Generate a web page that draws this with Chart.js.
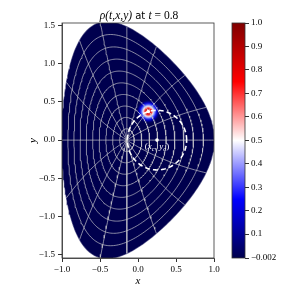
<!DOCTYPE html>
<html>
<head>
<meta charset="utf-8">
<script src="https://cdn.jsdelivr.net/npm/chart.js@4/dist/chart.umd.min.js"></script>
<style>
html, body { margin: 0; padding: 0; background: #fff; }
#wrap { position: relative; width: 299px; height: 297px; }
canvas { position: absolute; top: 0; }
</style>
</head>
<body>
<div id="wrap">
  <canvas id="main" width="299" height="297" style="left:0"></canvas>
  <canvas id="cbar" width="79" height="297" style="left:220px"></canvas>
</div>
<script>
// tick labels
var X_TICKS = [-1.0, -0.5, 0.0, 0.5, 1.0];
var Y_TICKS = [-1.5, -1.0, -0.5, 0.0, 0.5, 1.0, 1.5];
var CB_TICKS = [-0.002, 0.1, 0.2, 0.3, 0.4, 0.5, 0.6, 0.7, 0.8, 0.9, 1.0];
var RHO_MIN = -0.002;
var RHO_MAX = 1.0;

// czarny mapping parameters + grid
var EPS = 0.3;
var ELL = 1.4;
var FLUX_RADII = [0.1, 0.2, 0.3, 0.4, 0.5, 0.6, 0.7, 0.8, 0.9];
var THETA_LINES = 16;

// rotating blob and its path
var CENTER_X = [0.25];
var CENTER_Y = [0.0];
var PATH_RADIUS = 0.39;
var BLOB_X = [0.135];
var BLOB_Y = [0.375];

var NAVY = 'rgb(0,0,78)';
var FONT = '"Liberation Serif", "Times New Roman", serif';

function mapX(r, th) {
  return (1 - Math.sqrt(1 + EPS * (EPS + 2 * r * Math.cos(th)))) / EPS;
}
function mapY(r, th) {
  var xi = 1 / Math.sqrt(1 - EPS * EPS / 4);
  return ELL * xi * r * Math.sin(th) / (2 - Math.sqrt(1 + EPS * (EPS + 2 * r * Math.cos(th))));
}
function surface(r) {
  var pts = [];
  for (var i = 0; i <= 240; i++) {
    var th = 2 * Math.PI * i / 240;
    pts.push({x: mapX(r, th), y: mapY(r, th)});
  }
  return pts;
}
function spoke(th) {
  var pts = [];
  for (var i = 0; i <= 40; i++) {
    var r = i / 40;
    pts.push({x: mapX(r, th), y: mapY(r, th)});
  }
  return pts;
}
function fmt(v) {
  return String(v).replace('-', '\u2212');
}

// blob image used as point style
var blob = document.createElement('canvas');
blob.width = 26; blob.height = 26;
(function () {
  var c = blob.getContext('2d');
  var g = c.createRadialGradient(13, 13, 0, 13, 13, 12);
  g.addColorStop(0.0, 'rgb(215,10,10)');
  g.addColorStop(0.28, 'rgb(235,35,35)');
  g.addColorStop(0.36, 'rgb(250,160,160)');
  g.addColorStop(0.42, 'rgb(255,255,255)');
  g.addColorStop(0.52, 'rgb(130,150,255)');
  g.addColorStop(0.68, 'rgb(10,10,235)');
  g.addColorStop(0.86, 'rgba(0,0,160,0.5)');
  g.addColorStop(1.0, 'rgba(0,0,78,0)');
  c.fillStyle = g;
  c.fillRect(0, 0, 26, 26);
})();

var datasets = [];
datasets.push({
  data: surface(1.0), fill: 'shape', backgroundColor: NAVY,
  borderColor: 'rgba(0,0,78,0.6)', borderWidth: 1.2, pointRadius: 0, order: 10
});
datasets.push({
  data: [{x: BLOB_X[0], y: BLOB_Y[0]}], pointStyle: blob, pointRadius: 3,
  showLine: false, order: 9
});
for (var k = 0; k < FLUX_RADII.length; k++) {
  datasets.push({
    data: surface(FLUX_RADII[k]), borderColor: 'rgba(200,200,205,0.85)',
    borderWidth: 0.8, pointRadius: 0, fill: false, order: 5
  });
}
for (var j = 0; j < THETA_LINES; j++) {
  datasets.push({
    data: spoke(2 * Math.PI * j / THETA_LINES), borderColor: 'rgba(200,200,205,0.85)',
    borderWidth: 0.8, pointRadius: 0, fill: false, order: 5
  });
}
var circ = [];
for (var i = 0; i <= 200; i++) {
  var a = 2 * Math.PI * i / 200;
  circ.push({x: CENTER_X[0] + PATH_RADIUS * Math.cos(a), y: CENTER_Y[0] + PATH_RADIUS * Math.sin(a)});
}
datasets.push({
  data: circ, borderColor: '#fff', borderWidth: 1.6, borderDash: [5, 3],
  pointRadius: 0, fill: false, order: 2
});
datasets.push({
  data: [{x: CENTER_X[0], y: CENTER_Y[0]}, {x: BLOB_X[0], y: BLOB_Y[0]}],
  showLine: false, pointRadius: 1.8, pointBackgroundColor: '#fff',
  pointBorderWidth: 0, order: 1
});

var framePlugin = {
  id: 'frame',
  afterDraw: function (chart) {
    var a = chart.chartArea, ctx = chart.ctx;
    ctx.save();
    ctx.strokeStyle = '#333';
    ctx.lineWidth = 0.8;
    ctx.strokeRect(a.left, a.top, a.right - a.left, a.bottom - a.top);
    ctx.restore();
  }
};

var textPlugin = {
  id: 'texts',
  afterDraw: function (chart) {
    var ctx = chart.ctx;
    // title
    var parts = [
      ['\u03c1(t,x,y)', 'italic 11.5px ' + FONT],
      [' at ', '10px "DejaVu Sans", sans-serif'],
      ['t', 'italic 11.5px ' + FONT],
      [' = 0.8', '11.5px ' + FONT]
    ];
    ctx.save();
    ctx.fillStyle = '#000';
    ctx.textBaseline = 'alphabetic';
    var w = 0;
    parts.forEach(function (p) { ctx.font = p[1]; w += ctx.measureText(p[0]).width; });
    var x0 = (chart.chartArea.left + chart.chartArea.right) / 2 - w / 2 + 1;
    parts.forEach(function (p) { ctx.font = p[1]; ctx.fillText(p[0], x0, 18.5); x0 += ctx.measureText(p[0]).width; });
    // (x_c, y_c) label
    var sx = chart.scales.x, sy = chart.scales.y;
    var lx = sx.getPixelForValue(CENTER_X[0]), ly = sy.getPixelForValue(CENTER_Y[0] - 0.08);
    var lab = [
      ['(', '9px ' + FONT, 0], ['x', 'italic 9px ' + FONT, 0], ['c', 'italic 6.5px ' + FONT, 2],
      [', ', '9px ' + FONT, 0], ['y', 'italic 9px ' + FONT, 0], ['c', 'italic 6.5px ' + FONT, 2],
      [')', '9px ' + FONT, 0]
    ];
    ctx.fillStyle = '#fff';
    w = 0;
    lab.forEach(function (p) { ctx.font = p[1]; w += ctx.measureText(p[0]).width; });
    var lx0 = lx - w / 2;
    lab.forEach(function (p) { ctx.font = p[1]; ctx.fillText(p[0], lx0, ly + 3 + p[2]); lx0 += ctx.measureText(p[0]).width; });
    ctx.restore();
  }
};

new Chart(document.getElementById('main'), {
  type: 'line',
  data: {datasets: datasets},
  options: {
    responsive: false,
    animation: false,
    devicePixelRatio: 1,
    events: [],
    layout: {padding: {left: 23, right: 85, top: 23, bottom: 5}},
    plugins: {legend: {display: false}, tooltip: {enabled: false}},
    elements: {line: {tension: 0}},
    scales: {
      x: {
        type: 'linear', min: -1.0, max: 1.0,
        afterBuildTicks: function (s) { s.ticks = X_TICKS.map(function (v) { return {value: v}; }); },
        afterFit: function (s) { s.height = 34; },
        ticks: {color: '#000', font: {family: FONT, size: 9}, padding: 2, maxRotation: 0,
          callback: function (v) { return fmt(v.toFixed(1)); }},
        grid: {drawOnChartArea: false, drawTicks: true, tickLength: 4, color: '#333'},
        border: {display: true, color: '#333', width: 0.8},
        title: {display: true, text: 'x', color: '#000', font: {family: FONT, size: 11, style: 'italic'}}
      },
      y: {
        type: 'linear', min: -1.542, max: 1.532,
        afterBuildTicks: function (s) { s.ticks = Y_TICKS.map(function (v) { return {value: v}; }); },
        afterFit: function (s) { s.width = 39; },
        ticks: {color: '#000', font: {family: FONT, size: 9}, padding: 3,
          callback: function (v) { return fmt(v.toFixed(1)); }},
        grid: {drawOnChartArea: false, drawTicks: true, tickLength: 4, color: '#333'},
        border: {display: true, color: '#333', width: 0.8},
        title: {display: true, text: 'y', color: '#000', font: {family: FONT, size: 11, style: 'italic'}}
      }
    }
  },
  plugins: [framePlugin, textPlugin]
});

// colorbar (seismic)
function seismic(ctx) {
  var a = ctx.chart.chartArea;
  if (!a) return NAVY;
  var g = ctx.chart.ctx.createLinearGradient(0, a.bottom, 0, a.top);
  g.addColorStop(0.0, 'rgb(0,0,77)');
  g.addColorStop(0.25, 'rgb(0,0,255)');
  g.addColorStop(0.5, 'rgb(255,255,255)');
  g.addColorStop(0.75, 'rgb(255,0,0)');
  g.addColorStop(1.0, 'rgb(128,0,0)');
  return g;
}

new Chart(document.getElementById('cbar'), {
  type: 'bar',
  data: {
    labels: ['rho'],
    datasets: [{data: [[RHO_MIN, RHO_MAX]], backgroundColor: seismic, borderWidth: 0,
      barPercentage: 1.0, categoryPercentage: 1.0}]
  },
  options: {
    responsive: false,
    animation: false,
    devicePixelRatio: 1,
    events: [],
    layout: {padding: {left: 12, right: 0, top: 23, bottom: 39}},
    plugins: {legend: {display: false}, tooltip: {enabled: false}},
    scales: {
      x: {display: false},
      y: {
        position: 'right', min: RHO_MIN, max: RHO_MAX,
        afterBuildTicks: function (s) { s.ticks = CB_TICKS.map(function (v) { return {value: v}; }); },
        afterFit: function (s) { s.width = 54; },
        ticks: {color: '#000', font: {family: FONT, size: 9}, padding: 2,
          callback: function (v) { return v === RHO_MIN ? fmt(String(v)) : v.toFixed(1); }},
        grid: {drawOnChartArea: false, drawTicks: true, tickLength: 4, color: '#333'},
        border: {display: false}
      }
    }
  },
  plugins: [framePlugin]
});
</script>
</body>
</html>
